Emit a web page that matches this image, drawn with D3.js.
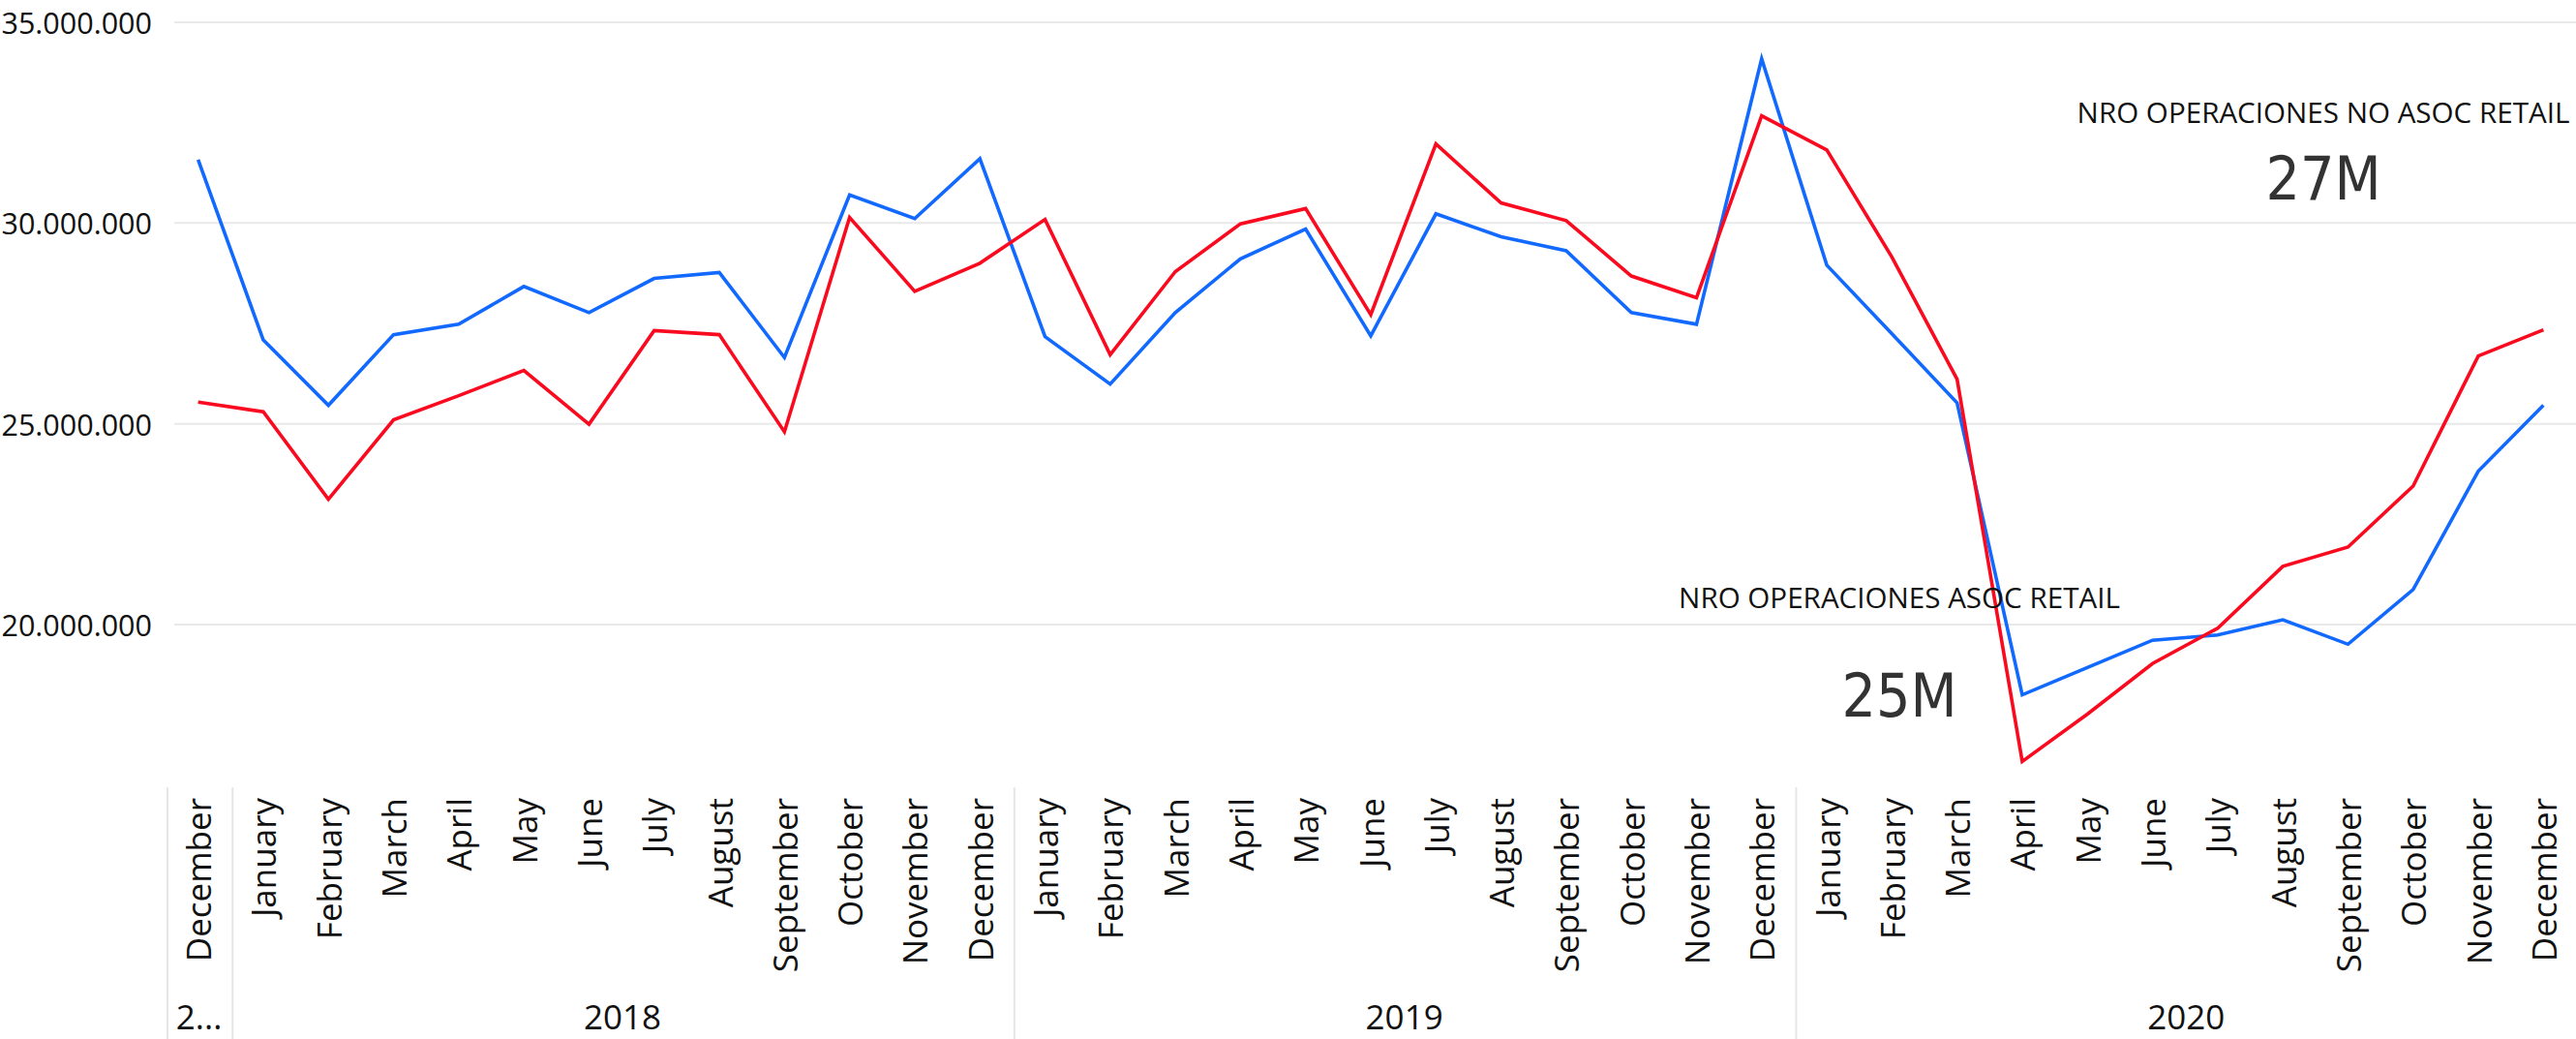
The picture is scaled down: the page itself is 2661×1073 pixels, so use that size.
<!DOCTYPE html>
<html>
<head>
<meta charset="utf-8">
<script src="https://cdn.jsdelivr.net/npm/d3@7"></script>
<style>
  html, body { margin: 0; padding: 0; background: #ffffff; }
  svg { display: block; }
</style>
</head>
<body>
<div id="chart"></div>
<script>
// ---- Data ----
const months = [
  "December",
  "January","February","March","April","May","June","July","August","September","October","November","December",
  "January","February","March","April","May","June","July","August","September","October","November","December",
  "January","February","March","April","May","June","July","August","September","October","November","December"
];
const monthYears = [
  "2017",
  "2018","2018","2018","2018","2018","2018","2018","2018","2018","2018","2018","2018",
  "2019","2019","2019","2019","2019","2019","2019","2019","2019","2019","2019","2019",
  "2020","2020","2020","2020","2020","2020","2020","2020","2020","2020","2020","2020"
];
const years = ["2017", "2018", "2019", "2020"];

// NRO OPERACIONES ASOC RETAIL (blue)
const asocRetail = [
  31580000,
  27090000, 25460000, 27220000, 27480000, 28420000, 27770000, 28620000, 28770000, 26650000, 30700000, 30110000, 31600000,
  27170000, 25990000, 27770000, 29110000, 29850000, 27190000, 30230000, 29660000, 29310000, 27770000, 27480000, 34090000,
  28950000, 27240000, 25520000, 18250000, 18930000, 19610000, 19740000, 20120000, 19510000, 20870000, 23820000, 25460000
];
// NRO OPERACIONES NO ASOC RETAIL (red)
const noAsocRetail = [
  25540000,
  25300000, 23120000, 25100000, 25700000, 26330000, 24990000, 27320000, 27220000, 24800000, 30140000, 28300000, 29000000,
  30090000, 26720000, 28790000, 29980000, 30360000, 27720000, 31970000, 30500000, 30060000, 28680000, 28140000, 32670000,
  31820000, 29150000, 26110000, 16590000, 17770000, 19030000, 19910000, 21450000, 21930000, 23450000, 26690000, 27340000
];
const yTicks = [20000000, 25000000, 30000000, 35000000];
const seriesNames = ["NRO OPERACIONES ASOC RETAIL", "NRO OPERACIONES NO ASOC RETAIL"];
const cardValues = ["25M", "27M"];

// ---- Layout ----
const W = 2661, H = 1073;
const FONT = "'Open Sans', 'Noto Sans', sans-serif";
const BIGFONT = "'DejaVu Sans Condensed', 'DejaVu Sans', sans-serif";
const BLUE = "#1169FF", RED = "#FA0A1E";

const svg = d3.select("#chart").append("svg")
  .attr("width", W).attr("height", H)
  .style("background", "#fff");

const keys = months.map((m, i) => i);
const x = d3.scaleBand().domain(keys).range([171, 2661]).padding(0);
const cx = i => x(i) + x.bandwidth() / 2;
const y = d3.scaleLinear().domain([20000000, 35000000]).range([645, 23]);

const locale = d3.formatLocale({ decimal: ",", thousands: ".", grouping: [3], currency: ["", ""] });
const fmt = locale.format(",");

// gridlines
svg.append("g").selectAll("line").data(yTicks).join("line")
  .attr("x1", 180).attr("x2", W)
  .attr("y1", d => y(d)).attr("y2", d => y(d))
  .attr("stroke", "#e9e9e9").attr("stroke-width", 2);

// y axis labels
svg.append("g").selectAll("text").data(yTicks).join("text")
  .attr("x", 157).attr("y", d => y(d))
  .attr("text-anchor", "end").attr("dominant-baseline", "central")
  .attr("font-family", FONT).attr("font-size", 30.5).attr("fill", "#111")
  .text(d => fmt(d));

// lines
const line = d3.line().x((d, i) => cx(i)).y(d => y(d));
svg.append("path").datum(asocRetail)
  .attr("d", line).attr("fill", "none")
  .attr("stroke", BLUE).attr("stroke-width", 3.6).attr("stroke-linejoin", "miter");
svg.append("path").datum(noAsocRetail)
  .attr("d", line).attr("fill", "none")
  .attr("stroke", RED).attr("stroke-width", 3.6).attr("stroke-linejoin", "miter");

// month labels
svg.append("g").selectAll("text").data(months).join("text")
  .attr("transform", (d, i) => `translate(${cx(i)},824) rotate(-90)`)
  .attr("text-anchor", "end").attr("dominant-baseline", "central")
  .attr("font-family", FONT).attr("font-size", 35).attr("fill", "#111")
  .text(d => d);

// year groups
const groups = years.map(yr => {
  const idx = keys.filter(i => monthYears[i] === yr);
  const x0 = x(idx[0]);
  const x1 = x(idx[idx.length - 1]) + x.bandwidth();
  return { yr, x0, x1 };
});
svg.append("g").selectAll("line").data(groups).join("line")
  .attr("x1", d => d.x0 + 2).attr("x2", d => d.x0 + 2)
  .attr("y1", 813).attr("y2", H)
  .attr("stroke", "#e6e6e6").attr("stroke-width", 2);

const yearText = svg.append("g").selectAll("text").data(groups).join("text")
  .attr("x", d => (d.x0 + d.x1) / 2 + 1).attr("y", 1063)
  .attr("text-anchor", "middle")
  .attr("font-family", FONT).attr("font-size", 35).attr("fill", "#111")
  .text(d => d.yr);
yearText.each(function (d) {
  const el = d3.select(this);
  const maxW = d.x1 - d.x0 - 8;
  let s = d.yr;
  if (this.getComputedTextLength() > maxW) {
    while (s.length > 1) {
      s = s.slice(0, -1);
      el.text(s + "...");
      if (this.getComputedTextLength() <= maxW) break;
    }
  }
});

// card annotations
const cards = [
  { name: seriesNames[1], value: cardValues[1], cx: 2400, ty: 127, vy: 206 },
  { name: seriesNames[0], value: cardValues[0], cx: 1962, ty: 628, vy: 740 }
];
cards.forEach(c => {
  svg.append("text").attr("x", c.cx).attr("y", c.ty)
    .attr("text-anchor", "middle")
    .attr("font-family", FONT).attr("font-size", 29.6).attr("fill", "#111")
    .text(c.name);
  svg.append("text").attr("x", c.cx).attr("y", c.vy)
    .attr("text-anchor", "middle")
    .attr("font-family", BIGFONT).attr("font-size", 62).attr("fill", "#333")
    .text(c.value);
});
</script>
</body>
</html>
